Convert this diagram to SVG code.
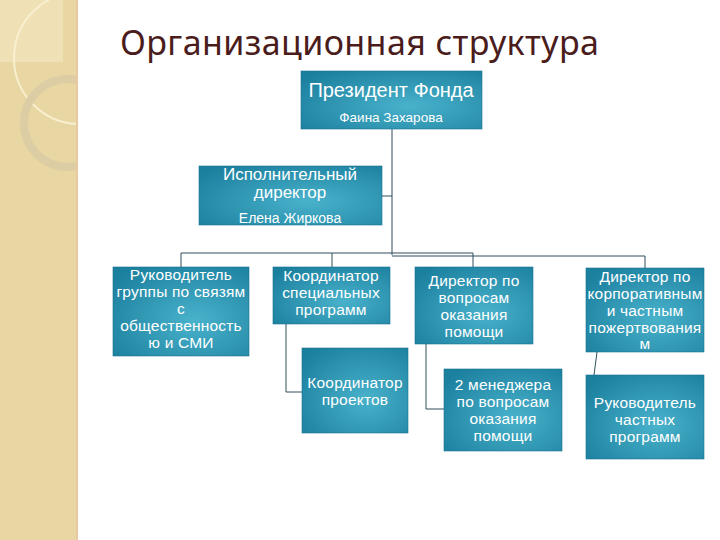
<svg xmlns="http://www.w3.org/2000/svg" width="720" height="540" viewBox="0 0 720 540">
<defs>
<radialGradient id="g" cx="0.6" cy="0.6" r="0.75">
<stop offset="0" stop-color="#49b2cb"/>
<stop offset="1" stop-color="#1b7f9e"/>
</radialGradient>
<clipPath id="side"><rect x="0" y="0" width="78" height="540"/></clipPath>
<style>
.box{fill:url(#g);stroke:#1a7290;stroke-width:0.6}
.t{font-family:"Liberation Sans",Arial,sans-serif;fill:#ffffff;text-anchor:middle}
.m{font-size:15.5px;letter-spacing:0.2px}
.c{fill:none;stroke:#2f4f5a;stroke-width:1}
</style>
</defs>
<rect width="720" height="540" fill="#ffffff"/>
<g id="sidebar" clip-path="url(#side)">
<rect x="0" y="0" width="78" height="540" fill="#e8d6a3"/>
<rect x="0" y="0" width="63" height="62" fill="#efe0b6"/>
<circle cx="80" cy="58" r="66" fill="none" stroke="#f8efcf" stroke-width="2"/>
<circle cx="68" cy="123" r="44" fill="none" stroke="#ddcda4" stroke-width="8"/>
<rect x="76" y="0" width="2" height="540" fill="#e9c9a2"/>
</g>
<text x="120" y="55" font-family="'Noto Sans','Open Sans',sans-serif" font-size="34" letter-spacing="0.4" fill="#4a1c1c">Организационная структура</text>
<g id="connectors">
<path class="c" d="M392 129 V255 M382 196 H392 M181 267 V253 H473 V267 M332 253 V267 M392 256 H645 V268 M286 324 V392 H302 M426 344 V409 H444 M597 352 L594 375"/>
</g>
<g id="president">
<rect class="box" x="301" y="71" width="181" height="58"/>
<text class="t" x="391" y="97" font-size="20">Президент Фонда</text>
<text class="t" x="391" y="122" font-size="13.5">Фаина Захарова</text>
</g>
<g id="exec">
<rect class="box" x="199" y="166" width="183" height="59"/>
<text class="t" font-size="17"><tspan x="290" y="180">Исполнительный</tspan><tspan x="290" y="198">директор</tspan></text>
<text class="t" x="290" y="223" font-size="14">Елена Жиркова</text>
</g>
<g id="pr">
<rect class="box" x="113" y="267" width="136" height="89"/>
<text class="t m"><tspan x="181" y="280">Руководитель</tspan><tspan x="181" y="297">группы по связям</tspan><tspan x="181" y="314">с</tspan><tspan x="181" y="331">общественность</tspan><tspan x="181" y="348">ю и СМИ</tspan></text>
</g>
<g id="special">
<rect class="box" x="273" y="267" width="117" height="57"/>
<text class="t m"><tspan x="331" y="281">Координатор</tspan><tspan x="331" y="298">специальных</tspan><tspan x="331" y="315">программ</tspan></text>
</g>
<g id="projects">
<rect class="box" x="302" y="348" width="106" height="85"/>
<text class="t m"><tspan x="355" y="388">Координатор</tspan><tspan x="355" y="405">проектов</tspan></text>
</g>
<g id="aid">
<rect class="box" x="415" y="267" width="118" height="77"/>
<text class="t m"><tspan x="474" y="286">Директор по</tspan><tspan x="474" y="303">вопросам</tspan><tspan x="474" y="320">оказания</tspan><tspan x="474" y="337">помощи</tspan></text>
</g>
<g id="managers">
<rect class="box" x="444" y="369" width="118" height="82"/>
<text class="t m"><tspan x="503" y="390">2 менеджера</tspan><tspan x="503" y="407">по вопросам</tspan><tspan x="503" y="424">оказания</tspan><tspan x="503" y="441">помощи</tspan></text>
</g>
<g id="corporate">
<rect class="box" x="586" y="268" width="118" height="84"/>
<text class="t m"><tspan x="645" y="282">Директор по</tspan><tspan x="645" y="299">корпоративным</tspan><tspan x="645" y="316">и частным</tspan><tspan x="645" y="333">пожертвования</tspan><tspan x="645" y="349">м</tspan></text>
</g>
<g id="private">
<rect class="box" x="586" y="375" width="118" height="84"/>
<text class="t m"><tspan x="645" y="408">Руководитель</tspan><tspan x="645" y="425">частных</tspan><tspan x="645" y="442">программ</tspan></text>
</g>
</svg>
